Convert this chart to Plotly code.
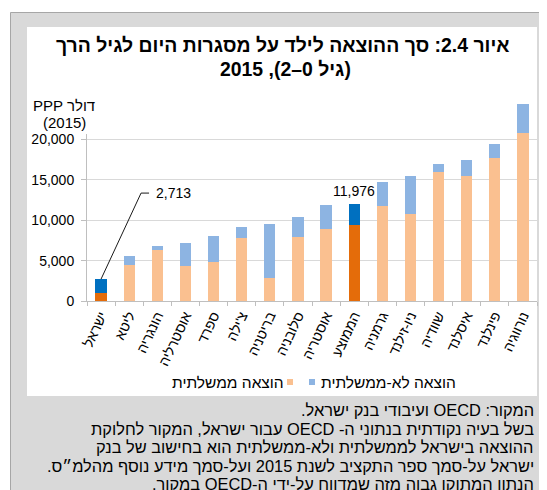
import plotly.graph_objects as go

# ---------------- data ----------------
categories = ["ישראל", "ליטא", "הונגריה", "אוסטרליה", "ספרד", "צ'ילה", "בריטניה", "סלובניה",
              "אוסטריה", "הממוצע", "גרמניה", "ניו-זילנד", "שוודיה", "איסלנד", "פינלנד", "נורווגיה"]
gov_spending = [1000, 4500, 6350, 4350, 4800, 7800, 2900, 7950, 8900, 9350, 11750, 10800, 16000, 15500, 17700, 20750]
nongov_spending = [1713, 1130, 500, 2800, 3300, 1400, 6650, 2500, 2950, 2626, 2950, 4700, 950, 1900, 1750, 3600]
highlighted = ["ישראל", "הממוצע"]
y_tick_values = [0, 5000, 10000, 15000, 20000, 25000]
y_tick_labels = ["0", "5,000", "10,000", "15,000", "20,000", ""]
series_names = ["הוצאה ממשלתית", "הוצאה לא-ממשלתית"]
title_lines = ["איור 2.4: סך ההוצאה לילד על מסגרות היום לגיל הרך", "(גיל 0–2), 2015"]
y_title_lines = ["PPP דולר", "(2015)"]
note_lines = [
    "המקור: OECD ועיבודי בנק ישראל.",
    "בשל בעיה נקודתית בנתוני ה- OECD עבור ישראל, המקור לחלוקת",
    "ההוצאה בישראל לממשלתית ולא-ממשלתית הוא בחישוב של בנק",
    "ישראל על-סמך ספר התקציב לשנת 2015 ועל-סמך מידע נוסף מהלמ״ס.",
    "הנתון המתוקן גבוה מזה שמדווח על-ידי ה-OECD במקור.",
]

# ---------------- styling / layout (page pixel coordinates) ----------------
OFF = 8                      # default body margin of the html page
W, H = 547 - OFF, 490 - OFF  # figure size
PLOT_L, PLOT_R, PLOT_T, PLOT_B = 87, 537, 99, 301  # plot area in page pixels
L, R, T, B = PLOT_L - OFF, W - (PLOT_R - OFF), PLOT_T - OFF, H - (PLOT_B - OFF)
FONT = "Liberation Sans"
RLE, PDF = "\u202b", "\u202c"
GOV_LIGHT, GOV_DARK = "#FAC090", "#E46C0A"
NON_LIGHT, NON_DARK = "#8DB4E2", "#0070C0"


def xp(px):
    return (px - PLOT_L) / (PLOT_R - PLOT_L)


def yp(py):
    return (PLOT_B - py) / (PLOT_B - PLOT_T)


def rtl(s):
    return RLE + s + PDF


gov_colors = [GOV_DARK if c in highlighted else GOV_LIGHT for c in categories]
non_colors = [NON_DARK if c in highlighted else NON_LIGHT for c in categories]
totals = [g + n for g, n in zip(gov_spending, nongov_spending)]

fig = go.Figure()
fig.add_bar(x=categories, y=gov_spending, name=series_names[0], marker=dict(color=gov_colors, line_width=0),
            showlegend=False)
fig.add_bar(x=categories, y=nongov_spending, name=series_names[1], marker=dict(color=non_colors, line_width=0),
            showlegend=False)

fig.update_layout(
    width=W, height=H,
    margin=dict(l=L, r=R, t=T, b=B, autoexpand=False),
    barmode="stack", bargap=0.6,
    paper_bgcolor="white", plot_bgcolor="rgba(0,0,0,0)",
    font=dict(family=FONT, size=14, color="black"),
)
fig.update_xaxes(type="category", showline=True, linecolor="#BFBFBF", ticks="outside", tickson="boundaries",
                 ticklen=4, tickcolor="#BFBFBF", tickangle=-65, tickfont=dict(size=14, color="black"),
                 showgrid=False)
fig.update_yaxes(range=[0, 25000], tickvals=y_tick_values, ticktext=y_tick_labels, showgrid=True,
                 gridcolor="#D9D9D9", gridwidth=1, showline=True, linecolor="#BFBFBF", ticks="outside",
                 ticklen=5, tickcolor="#BFBFBF", zeroline=False, tickfont=dict(size=14, color="black"),
                 ticklabelstandoff=4)

shapes = [
    dict(type="rect", xref="paper", yref="paper", x0=xp(10.5), x1=xp(620), y0=yp(12.5), y1=yp(620),
         fillcolor="#D9D9D9", line=dict(color="#A6A6A6", width=1), layer="below"),
    dict(type="rect", xref="paper", yref="paper", x0=xp(27), x1=xp(537), y0=yp(27), y1=yp(396),
         fillcolor="white", line=dict(width=0), layer="below"),
    dict(type="rect", xref="paper", yref="paper", x0=xp(28), x1=xp(96), y0=yp(93), y1=yp(134),
         fillcolor="white", line=dict(width=0), layer="above"),
    # leader line for Israel label
    dict(type="line", xref="x", yref="y", xsizemode="pixel", ysizemode="pixel",
         xanchor=categories[0], yanchor=totals[0], x0=0, x1=40, y0=0, y1=86,
         line=dict(color="#1a1a1a", width=1)),
    dict(type="line", xref="x", yref="y", xsizemode="pixel", ysizemode="pixel",
         xanchor=categories[0], yanchor=totals[0], x0=40, x1=48, y0=86, y1=86,
         line=dict(color="#1a1a1a", width=1)),
    # legend swatches
    dict(type="rect", xref="paper", yref="paper", x0=xp(287), x1=xp(293), y0=yp(379), y1=yp(385),
         fillcolor=GOV_LIGHT, line=dict(width=0), layer="above"),
    dict(type="rect", xref="paper", yref="paper", x0=xp(309), x1=xp(315), y0=yp(379), y1=yp(385),
         fillcolor=NON_LIGHT, line=dict(width=0), layer="above"),
]

oecd_i = categories.index(highlighted[1])
annotations = [
    dict(text=f"{totals[0]:,}", x=categories[0], y=totals[0], xref="x", yref="y", xshift=53, yshift=86,
         xanchor="left", yanchor="middle", showarrow=False, font=dict(size=14)),
    dict(text=f"{totals[oecd_i]:,}", x=categories[oecd_i], y=totals[oecd_i], xref="x", yref="y", yshift=3,
         xanchor="center", yanchor="bottom", showarrow=False, font=dict(size=14)),
    dict(text="<b>" + rtl(title_lines[0]) + "</b>", x=xp(283), y=yp(45), xref="paper", yref="paper",
         xanchor="center", yanchor="middle", showarrow=False, font=dict(size=19.4)),
    dict(text="<b>" + rtl(title_lines[1]) + "</b>", x=xp(285), y=yp(69), xref="paper", yref="paper",
         xanchor="center", yanchor="middle", showarrow=False, font=dict(size=19.4)),
    dict(text=y_title_lines[0], x=xp(64), y=yp(105), xref="paper", yref="paper",
         xanchor="center", yanchor="middle", showarrow=False, font=dict(size=15)),
    dict(text=y_title_lines[1], x=xp(64), y=yp(122), xref="paper", yref="paper",
         xanchor="center", yanchor="middle", showarrow=False, font=dict(size=15)),
    dict(text=rtl(series_names[0]), x=xp(286), y=yp(382), xref="paper", yref="paper",
         xanchor="right", yanchor="middle", showarrow=False, font=dict(size=15.5)),
    dict(text=rtl(series_names[1]), x=xp(319), y=yp(382), xref="paper", yref="paper",
         xanchor="left", yanchor="middle", showarrow=False, font=dict(size=15.5)),
]
note_y = [410, 428.5, 447, 465.5, 484]
for line, ypx in zip(note_lines, note_y):
    annotations.append(dict(text=rtl(line), x=xp(536), y=yp(ypx), xref="paper", yref="paper",
                            xanchor="right", yanchor="middle", showarrow=False,
                            font=dict(size=16.4, color="black")))

fig.update_layout(shapes=shapes, annotations=annotations)
fig.write_html("out.html")
